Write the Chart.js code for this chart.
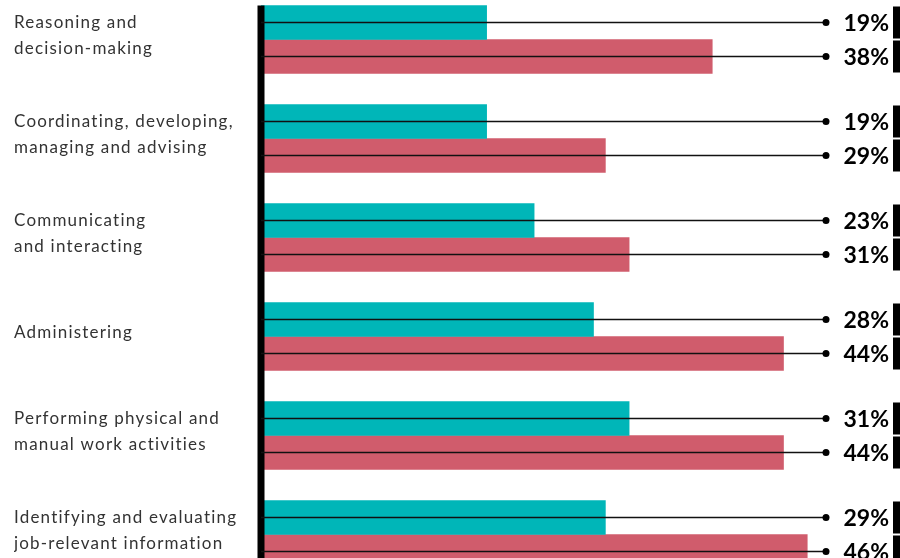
<!DOCTYPE html>
<html>
<head>
<meta charset="utf-8">
<script src="https://cdn.jsdelivr.net/npm/chart.js@4.4.0/dist/chart.umd.min.js"></script>
<style>
  html, body { margin: 0; padding: 0; background: #fff; }
  #frame { position: relative; width: 900px; height: 558px; overflow: hidden; }
  #holder { position: absolute; left: 0; top: -10px; width: 900px; height: 594px; }
</style>
</head>
<body>
<div id="frame"><div id="holder"><canvas id="chart"></canvas></div></div>
<script>
// the picture is cut off at the bottom, so only six groups show
const categories = [
  ['Reasoning and', 'decision-making'],
  ['Coordinating, developing,', 'managing and advising'],
  ['Communicating', 'and interacting'],
  'Administering',
  ['Performing physical and', 'manual work activities'],
  ['Identifying and evaluating', 'job-relevant information']
];
const tealValues = [19, 19, 23, 28, 31, 29];
const redValues = [38, 29, 31, 44, 44, 46];
const xMax = 50;

const TEAL = '#00b6b8';
const RED = '#d05c6c';

// axis rule, leader lines, dots, value labels and end ticks
const markers = {
  id: 'markers',
  beforeDraw(chart) {
    chart.ctx.letterSpacing = '1.2px';
  },
  afterDatasetsDraw(chart) {
    const ctx = chart.ctx;
    const area = chart.chartArea;
    const dotX = chart.width - 74;
    ctx.save();
    ctx.letterSpacing = '0px';
    ctx.fillStyle = '#000';

    const first = chart.getDatasetMeta(0).data[0];
    const top = first.y - first.height / 2;
    ctx.fillRect(area.left - 3.5, top, 7, area.bottom - top);

    chart.data.datasets.forEach((ds, di) => {
      chart.getDatasetMeta(di).data.forEach((bar, i) => {
        ctx.strokeStyle = '#111';
        ctx.lineWidth = 1.5;
        ctx.beginPath();
        ctx.moveTo(area.left, bar.y);
        ctx.lineTo(dotX, bar.y);
        ctx.stroke();
        ctx.beginPath();
        ctx.arc(dotX, bar.y, 3.5, 0, Math.PI * 2);
        ctx.fill();

        ctx.font = 'bold 23px Lato';
        ctx.textAlign = 'right';
        ctx.textBaseline = 'middle';
        ctx.fillText(ds.data[i] + '%', chart.width - 11, bar.y + 1);

        ctx.fillRect(chart.width - 7, bar.y - bar.height / 2 + 1, 7, bar.height - 2);
      });
    });
    ctx.restore();
  },
  afterDraw(chart) {
    chart.ctx.letterSpacing = '0px';
  }
};

const ctx = document.getElementById('chart').getContext('2d');
const myChart = new Chart(ctx, {
  type: 'bar',
  data: {
    labels: categories,
    datasets: [
      { label: 'Series 1', data: tealValues, backgroundColor: TEAL },
      { label: 'Series 2', data: redValues, backgroundColor: RED }
    ]
  },
  options: {
    indexAxis: 'y',
    responsive: true,
    maintainAspectRatio: false,
    animation: false,
    barThickness: 34,
    layout: { padding: { left: 14, right: 45.25, top: 0, bottom: 0 } },
    plugins: {
      legend: { display: false },
      tooltip: { enabled: false }
    },
    scales: {
      x: {
        display: false,
        min: 0,
        max: xMax
      },
      y: {
        grid: { display: false },
        border: { display: false },
        afterFit(scale) {
          scale.width = 247;
          scale.paddingTop = 0;
          scale.paddingBottom = 0;
        },
        ticks: {
          crossAlign: 'far',
          labelOffset: -4,
          color: '#333',
          font: { family: 'Lato', size: 17, lineHeight: 1.5 }
        }
      }
    }
  },
  plugins: [markers]
});
</script>
</body>
</html>
